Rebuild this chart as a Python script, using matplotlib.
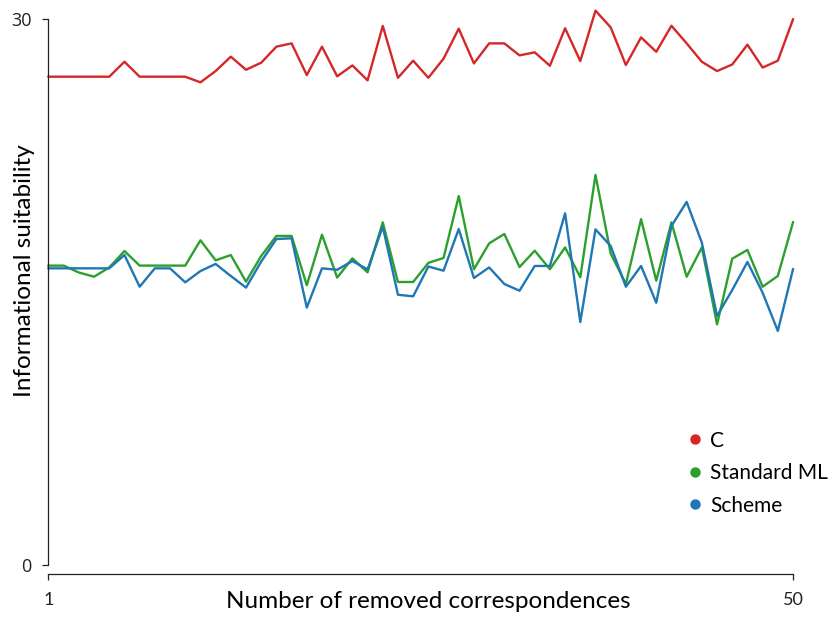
import matplotlib
matplotlib.use('Agg')
import matplotlib.pyplot as plt
from matplotlib.lines import Line2D

# number of removed correspondences
x = list(range(1, 51))

c_vals = [26.83, 26.83, 26.83, 26.83, 26.83, 27.65, 26.83, 26.83, 26.83, 26.83,
          26.52, 27.14, 27.93, 27.21, 27.6, 28.48, 28.66, 26.92, 28.48, 26.85,
          27.45, 26.63, 29.62, 26.77, 27.71, 26.77, 27.82, 29.47, 27.56, 28.66,
          28.66, 28.0, 28.17, 27.43, 29.49, 27.69, 30.46, 29.54, 27.47, 28.99,
          28.2, 29.63, 28.66, 27.65, 27.14, 27.5, 28.59, 27.33, 27.71, 29.98]

ml_vals = [16.45, 16.45, 16.07, 15.84, 16.35, 17.25, 16.45, 16.45, 16.45, 16.45,
           17.84, 16.74, 17.03, 15.57, 16.98, 18.08, 18.08, 15.37, 18.15, 15.79,
           16.85, 16.08, 18.83, 15.55, 15.55, 16.6, 16.87, 20.27, 16.25, 17.67,
           18.19, 16.37, 17.27, 16.25, 17.45, 15.81, 21.43, 17.12, 15.44, 19.0,
           15.62, 18.83, 15.84, 17.45, 13.22, 16.83, 17.31, 15.29, 15.88, 18.83]

scheme_vals = [16.3, 16.3, 16.3, 16.3, 16.3, 17.03, 15.29, 16.3, 16.3, 15.53,
               16.15, 16.54, 15.88, 15.24, 16.67, 17.91, 17.95, 14.14, 16.3, 16.22,
               16.7, 16.24, 18.59, 14.85, 14.76, 16.4, 16.17, 18.46, 15.77, 16.35,
               15.44, 15.07, 16.43, 16.43, 19.32, 13.35, 18.44, 17.53, 15.29, 16.43,
               14.41, 18.63, 19.95, 17.71, 13.68, 15.11, 16.65, 14.96, 12.86, 16.25]

series = [('C', c_vals, '#d62728'),
          ('Standard ML', ml_vals, '#2ca02c'),
          ('Scheme', scheme_vals, '#1f77b4')]

plt.rcParams['font.family'] = ['Lato', 'DejaVu Sans']

fig = plt.figure(figsize=(8.33, 6.21), dpi=100)
ax = fig.add_axes([0.0582, 0.0902, 0.8938, 0.8792])

for name, vals, col in series:
    ax.plot(x, vals, color=col, linewidth=1.7, clip_on=False)

ax.set_xlim(1, 50)
ax.set_ylim(0, 30)
ax.set_xticks([1, 50])
ax.set_yticks([0, 30])
ax.tick_params(length=4, width=0.9, labelsize=13, colors='#222222')
ax.tick_params(axis='x', pad=9)
ax.tick_params(axis='y', pad=8)
for lab in ax.get_xticklabels() + ax.get_yticklabels():
    lab.set_family(['Open Sans', 'DejaVu Sans'])

# offset spines like despine(offset=...)
ax.spines['top'].set_visible(False)
ax.spines['right'].set_visible(False)
ax.spines['bottom'].set_position(('outward', 6.5))
for s in ['left', 'bottom']:
    ax.spines[s].set_linewidth(0.9)
    ax.spines[s].set_color('#222222')

ax.set_xlabel('Number of removed correspondences', fontsize=17.5, va='center')
ax.xaxis.set_label_coords(0.51, -0.066)
ax.set_ylabel('Informational suitability', fontsize=17.5, va='center')
ax.yaxis.set_label_coords(-0.032, 0.54)

handles = [Line2D([], [], marker='o', linestyle='none', color=col, markersize=6.5)
           for name, vals, col in series]
fig.legend(handles, [s[0] for s in series], loc='center left',
           bbox_to_anchor=(0.814, 0.238), frameon=False, fontsize=15,
           handlelength=0.6, handletextpad=0.45, labelspacing=0.6, borderpad=0)

fig.savefig('out.png', dpi=100)
